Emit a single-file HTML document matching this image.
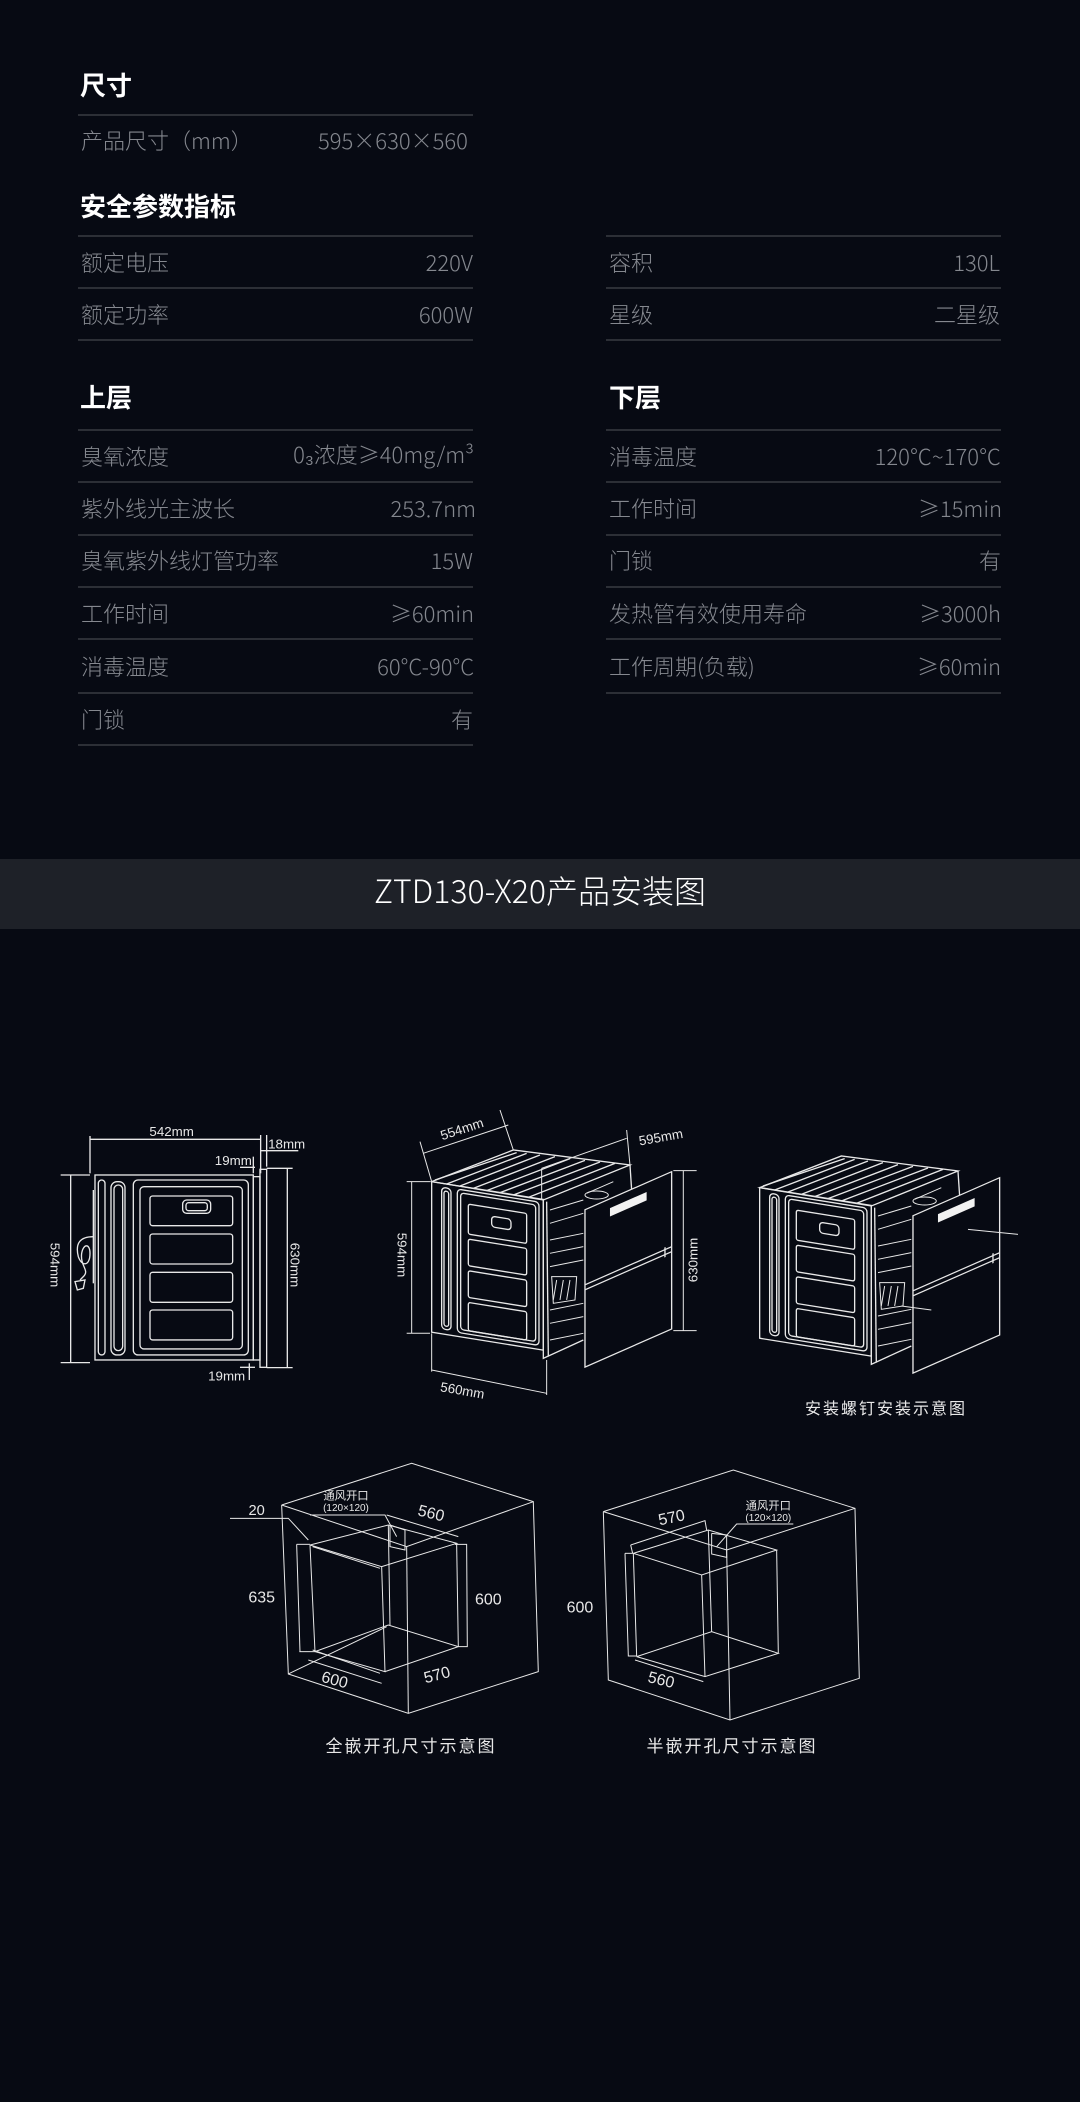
<!DOCTYPE html>
<html><head><meta charset="utf-8">
<style>
html,body{margin:0;padding:0;}
body{width:1080px;height:2102px;background:#070a13;position:relative;overflow:hidden;font-family:"Noto Sans CJK SC","Liberation Sans",sans-serif;}
.t{position:absolute;white-space:nowrap;line-height:1;}
.h{color:#fff;font-size:26px;font-weight:bold;}
.r{color:#85888f;font-size:22px;font-weight:300;}
.v{color:#85888f;font-size:22px;text-align:right;font-weight:300;}
.ln{position:absolute;height:2px;background:#2c2f36;}
.banner{position:absolute;left:0;top:859px;width:1080px;height:70px;background:#1e2128;}
svg{position:absolute;left:0;top:0;}
</style></head><body>

<div class="t h" style="left:80px;top:72px">尺寸</div>
<div class="ln" style="left:78px;top:114px;width:395px"></div>
<div class="t r" style="left:81px;top:129px">产品尺寸（mm）</div>
<div class="t r" style="left:318px;top:129px">595×630×560</div>

<div class="t h" style="left:80px;top:193px">安全参数指标</div>
<div class="ln" style="left:78px;top:235px;width:395px"></div>
<div class="ln" style="left:606px;top:235px;width:395px"></div>
<div class="t r" style="left:81px;top:251px">额定电压</div>
<div class="t v" style="right:607px;top:251px">220V</div>
<div class="t r" style="left:609px;top:251px">容积</div>
<div class="t v" style="right:80px;top:251px">130L</div>
<div class="ln" style="left:78px;top:287px;width:395px"></div>
<div class="ln" style="left:606px;top:287px;width:395px"></div>
<div class="t r" style="left:81px;top:303px">额定功率</div>
<div class="t v" style="right:607px;top:303px">600W</div>
<div class="t r" style="left:609px;top:303px">星级</div>
<div class="t v" style="right:80px;top:303px">二星级</div>
<div class="ln" style="left:78px;top:339px;width:395px"></div>
<div class="ln" style="left:606px;top:339px;width:395px"></div>

<div class="t h" style="left:80px;top:384px">上层</div>
<div class="t h" style="left:609px;top:384px">下层</div>
<div class="ln" style="left:78px;top:429px;width:395px"></div>
<div class="ln" style="left:606px;top:429px;width:395px"></div>

<div class="t r" style="left:81px;top:445px">臭氧浓度</div>
<div class="t v" style="right:606px;top:443px">0₃浓度≥40mg/m³</div>
<div class="t r" style="left:609px;top:445px">消毒温度</div>
<div class="t v" style="right:79px;top:445px">120℃~170℃</div>
<div class="ln" style="left:78px;top:481px;width:395px"></div>
<div class="ln" style="left:606px;top:481px;width:395px"></div>

<div class="t r" style="left:81px;top:497px">紫外线光主波长</div>
<div class="t v" style="right:604px;top:497px">253.7nm</div>
<div class="t r" style="left:609px;top:497px">工作时间</div>
<div class="t v" style="right:78px;top:497px">≥15min</div>
<div class="ln" style="left:78px;top:534px;width:395px"></div>
<div class="ln" style="left:606px;top:534px;width:395px"></div>

<div class="t r" style="left:81px;top:549px">臭氧紫外线灯管功率</div>
<div class="t v" style="right:607px;top:549px">15W</div>
<div class="t r" style="left:609px;top:549px">门锁</div>
<div class="t v" style="right:79px;top:549px">有</div>
<div class="ln" style="left:78px;top:586px;width:395px"></div>
<div class="ln" style="left:606px;top:586px;width:395px"></div>

<div class="t r" style="left:81px;top:602px">工作时间</div>
<div class="t v" style="right:606px;top:602px">≥60min</div>
<div class="t r" style="left:609px;top:602px">发热管有效使用寿命</div>
<div class="t v" style="right:79px;top:602px">≥3000h</div>
<div class="ln" style="left:78px;top:638px;width:395px"></div>
<div class="ln" style="left:606px;top:638px;width:395px"></div>

<div class="t r" style="left:81px;top:655px">消毒温度</div>
<div class="t v" style="right:606px;top:655px">60°C-90°C</div>
<div class="t r" style="left:609px;top:655px">工作周期(负载)</div>
<div class="t v" style="right:79px;top:655px">≥60min</div>
<div class="ln" style="left:78px;top:692px;width:395px"></div>
<div class="ln" style="left:606px;top:692px;width:395px"></div>

<div class="t r" style="left:81px;top:708px">门锁</div>
<div class="t v" style="right:607px;top:708px">有</div>
<div class="ln" style="left:78px;top:744px;width:395px"></div>

<div class="banner"></div>
<div class="t" style="left:0;width:1080px;text-align:center;top:874px;color:#fff;font-size:32px;font-weight:300;">ZTD130-X20产品安装图</div>

<svg width="1080" height="2102" viewBox="0 0 1080 2102" fill="none" stroke="#e8e8e8" font-family="Liberation Sans, Noto Sans CJK SC, sans-serif">
<g transform="translate(40,1110) scale(0.3333)" stroke-width="4">
  <line x1="150" y1="88" x2="662" y2="88"/>
  <line x1="150" y1="78" x2="150" y2="190"/>
  <line x1="662" y1="75" x2="662" y2="190"/>
  <line x1="680" y1="75" x2="680" y2="170"/>
  <line x1="662" y1="122" x2="775" y2="122"/>
  <line x1="600" y1="172" x2="645" y2="172"/>
  <line x1="640" y1="140" x2="640" y2="190"/>
  <rect x="165" y="195" width="475" height="555"/>
  <rect x="640" y="200" width="20" height="550"/>
  <rect x="660" y="178" width="20" height="594"/>
  <line x1="742" y1="175" x2="742" y2="773"/>
  <line x1="680" y1="175" x2="758" y2="175"/>
  <line x1="680" y1="773" x2="758" y2="773"/>
  <line x1="92" y1="195" x2="92" y2="758"/>
  <line x1="62" y1="195" x2="150" y2="195"/>
  <line x1="62" y1="758" x2="150" y2="758"/>
  <rect x="175" y="210" width="20" height="525" rx="10"/>
  <rect x="213" y="215" width="42" height="520" rx="18"/>
  <rect x="222" y="225" width="26" height="497" rx="13"/>
  <rect x="280" y="210" width="345" height="525" rx="14"/>
  <rect x="300" y="230" width="307" height="487" rx="12"/>
  <rect x="330" y="258" width="248" height="89" rx="8"/>
  <rect x="330" y="372" width="248" height="90" rx="8"/>
  <rect x="330" y="487" width="248" height="90" rx="8"/>
  <rect x="330" y="600" width="248" height="90" rx="8"/>
  <rect x="428" y="270" width="84" height="40" rx="12"/>
  <rect x="438" y="278" width="64" height="24" rx="8"/>
  <line x1="160" y1="240" x2="160" y2="520"/>
  <path d="M160 380 C120 380,105 400,115 440 C125 470,150 470,150 430 C150 400,130 400,125 430 C120 470,150 480,130 500 L120 510"/>
  <path d="M105 515 L135 510 L130 535 L112 540 Z"/>
  <line x1="628" y1="760" x2="628" y2="810"/>
  <line x1="600" y1="772" x2="645" y2="772"/>
  <g fill="#e8e8e8" stroke="none">
    <text x="395" y="78" font-size="40" text-anchor="middle">542mm</text>
    <text x="740" y="115" font-size="40" text-anchor="middle">18mm</text>
    <text x="580" y="165" font-size="40" text-anchor="middle">19mm</text>
    <text x="560" y="812" font-size="40" text-anchor="middle">19mm</text>
    <text transform="translate(32,465) rotate(90)" font-size="40" text-anchor="middle">594mm</text>
    <text transform="translate(752,465) rotate(90)" font-size="40" text-anchor="middle">630mm</text>
  </g>
</g>

<defs>
<g id="cab" stroke-width="4">
  <polygon points="155,245 400,150 750,195 490,300"/>
  <polyline points="165,240 410,158"/>
  <line x1="200" y1="252" x2="440" y2="160"/>
  <line x1="240" y1="258" x2="480" y2="165"/>
  <line x1="280" y1="265" x2="525" y2="170"/>
  <line x1="320" y1="272" x2="570" y2="176"/>
  <line x1="360" y1="278" x2="615" y2="181"/>
  <line x1="400" y1="285" x2="660" y2="186"/>
  <line x1="445" y1="292" x2="705" y2="190"/>
  <polyline points="490,300 490,775 610,720"/>
  <polyline points="750,195 755,270"/>
  <line x1="500" y1="305" x2="505" y2="770"/>
  <g transform="matrix(1,0.16,0,1,0,0)">
    <rect x="155" y="220" width="335" height="452"/>
    <rect x="185" y="232" width="28" height="425" rx="12"/>
    <rect x="192" y="242" width="14" height="405" rx="7"/>
    <rect x="232" y="230" width="245" height="430" rx="12"/>
    <rect x="242" y="240" width="225" height="410" rx="10"/>
    <rect x="265" y="270" width="175" height="90" rx="6"/>
    <rect x="265" y="375" width="175" height="80" rx="6"/>
    <rect x="265" y="470" width="175" height="80" rx="6"/>
    <rect x="265" y="565" width="175" height="85" rx="6"/>
    <rect x="335" y="295" width="58" height="32" rx="10"/>
  </g>
  <g stroke-width="3">
    <line x1="510" y1="330" x2="610" y2="300"/>
    <line x1="510" y1="370" x2="610" y2="340"/>
    <line x1="510" y1="420" x2="610" y2="400"/>
    <line x1="510" y1="460" x2="610" y2="440"/>
    <line x1="510" y1="500" x2="610" y2="480"/>
    <path d="M515 530 L590 530 L585 600 L520 610 Z"/>
    <line x1="530" y1="540" x2="520" y2="600"/>
    <line x1="550" y1="540" x2="540" y2="600"/>
    <line x1="570" y1="540" x2="560" y2="600"/>
    <line x1="510" y1="630" x2="610" y2="610"/>
    <line x1="510" y1="670" x2="610" y2="650"/>
    <line x1="510" y1="720" x2="610" y2="700"/>
    <line x1="620" y1="280" x2="700" y2="245"/>
    <ellipse cx="650" cy="285" rx="35" ry="12"/>
  </g>
  <g transform="matrix(1,-0.44,0,1,0,0)">
    <rect x="615" y="600" width="260" height="472" fill="#070a13"/>
    <rect x="690" y="628" width="110" height="25" fill="#f2f2f2" stroke="none"/>
    <line x1="615" y1="825" x2="875" y2="825"/>
    <line x1="615" y1="840" x2="875" y2="840"/>
    <line x1="855" y1="818" x2="855" y2="848"/>
  </g>
</g>
</defs>
<g transform="translate(380,1100) scale(0.3333)">
  <use href="#cab"/>
  <g stroke-width="3">
    <line x1="120" y1="125" x2="155" y2="245"/>
    <line x1="360" y1="30" x2="400" y2="150"/>
    <line x1="130" y1="160" x2="385" y2="75"/>
    <line x1="740" y1="90" x2="750" y2="195"/>
    <line x1="485" y1="205" x2="740" y2="115"/>
    <line x1="485" y1="205" x2="485" y2="300"/>
    <line x1="95" y1="245" x2="95" y2="700"/>
    <line x1="80" y1="245" x2="150" y2="245"/>
    <line x1="80" y1="700" x2="150" y2="700"/>
    <line x1="910" y1="212" x2="910" y2="692"/>
    <line x1="880" y1="212" x2="950" y2="212"/>
    <line x1="880" y1="692" x2="950" y2="692"/>
    <line x1="155" y1="700" x2="155" y2="815"/>
    <line x1="500" y1="780" x2="500" y2="885"/>
    <line x1="155" y1="810" x2="500" y2="880"/>
  </g>
  <g fill="#e8e8e8" stroke="none" font-size="40">
    <text transform="translate(250,100) rotate(-18)" text-anchor="middle">554mm</text>
    <text transform="translate(845,125) rotate(-10)" text-anchor="middle">595mm</text>
    <text transform="translate(52,465) rotate(90)" text-anchor="middle">594mm</text>
    <text transform="translate(952,480) rotate(-90)" text-anchor="middle">630mm</text>
    <text transform="translate(245,885) rotate(10)" text-anchor="middle">560mm</text>
  </g>
</g>
<g transform="translate(708,1106) scale(0.3333)">
  <use href="#cab"/>
  <g stroke-width="3">
    <line x1="780" y1="370" x2="930" y2="385"/>
    <line x1="580" y1="600" x2="670" y2="612"/>
  </g>
</g>
<text x="886" y="1414" fill="#e8e8e8" stroke="none" font-size="16" text-anchor="middle" letter-spacing="2">安装螺钉安装示意图</text>

<g transform="translate(220,1450) scale(0.3333)" stroke-width="3">
  <polyline points="185,165 575,40 940,155 955,665 565,790 205,672 185,165"/>
  <polyline points="185,165 560,290 940,155"/>
  <line x1="560" y1="290" x2="565" y2="790"/>
  <polyline points="205,672 500,530"/>
  <polyline points="270,285 485,350 495,665 285,605 270,285"/>
  <polyline points="270,285 505,225 710,280 485,350"/>
  <polyline points="285,605 505,525 715,590 495,665"/>
  <line x1="505" y1="225" x2="510" y2="525"/>
  <line x1="710" y1="280" x2="715" y2="590"/>
  <polyline points="230,283 240,605"/>
  <line x1="230" y1="283" x2="270" y2="283"/>
  <line x1="238" y1="605" x2="285" y2="605"/>
  <polyline points="705,283 740,283 742,590 715,590"/>
  <line x1="278" y1="290" x2="480" y2="355"/>
  <line x1="278" y1="600" x2="480" y2="670"/>
  <line x1="265" y1="630" x2="485" y2="700"/>
  <line x1="500" y1="195" x2="715" y2="260"/>
  <polyline points="510,225 555,240 555,300 510,290 510,225"/>
  <polyline points="30,205 205,205 265,270"/>
  <polyline points="270,195 495,195 530,260"/>
  <g fill="#e8e8e8" stroke="none">
    <text x="110" y="195" font-size="44" text-anchor="middle">20</text>
    <text x="378" y="148" font-size="34" text-anchor="middle">通风开口</text>
    <text x="378" y="183" font-size="30" text-anchor="middle">(120×120)</text>
    <text transform="translate(630,205) rotate(14)" font-size="48" text-anchor="middle">560</text>
    <text x="125" y="458" font-size="48" text-anchor="middle">635</text>
    <text x="805" y="463" font-size="48" text-anchor="middle">600</text>
    <text transform="translate(340,705) rotate(15)" font-size="48" text-anchor="middle">600</text>
    <text transform="translate(655,690) rotate(-15)" font-size="48" text-anchor="middle">570</text>
  </g>
</g>

<g transform="translate(560,1450) scale(0.3333)" stroke-width="3">
  <polyline points="130,185 520,60 885,175 898,685 510,810 145,690 130,185"/>
  <polyline points="130,185 500,300 885,175"/>
  <line x1="500" y1="300" x2="510" y2="810"/>
  <polyline points="220,310 445,240 650,300 425,375 220,310"/>
  <line x1="220" y1="310" x2="230" y2="620"/>
  <line x1="425" y1="375" x2="435" y2="680"/>
  <line x1="650" y1="300" x2="655" y2="610"/>
  <line x1="445" y1="240" x2="455" y2="545"/>
  <polyline points="230,620 455,545 655,610 435,680 230,620"/>
  <polyline points="195,310 220,310"/>
  <polyline points="195,310 205,618 230,618"/>
  <polyline points="212,285 435,212 440,240"/>
  <line x1="212" y1="285" x2="218" y2="310"/>
  <line x1="225" y1="630" x2="430" y2="695"/>
  <polyline points="455,250 500,255 500,322 455,312 455,250"/>
  <polyline points="470,290 530,222 700,222"/>
  <g fill="#e8e8e8" stroke="none">
    <text transform="translate(338,218) rotate(-12)" font-size="48" text-anchor="middle">570</text>
    <text x="60" y="488" font-size="48" text-anchor="middle">600</text>
    <text transform="translate(300,705) rotate(14)" font-size="48" text-anchor="middle">560</text>
    <text x="625" y="178" font-size="34" text-anchor="middle">通风开口</text>
    <text x="625" y="213" font-size="30" text-anchor="middle">(120×120)</text>
  </g>
</g>
<g fill="#e8e8e8" stroke="none" font-size="17" text-anchor="middle" letter-spacing="2">
  <text x="411" y="1752">全嵌开孔尺寸示意图</text>
  <text x="732" y="1752">半嵌开孔尺寸示意图</text>
</g>
</svg>
</body></html>
